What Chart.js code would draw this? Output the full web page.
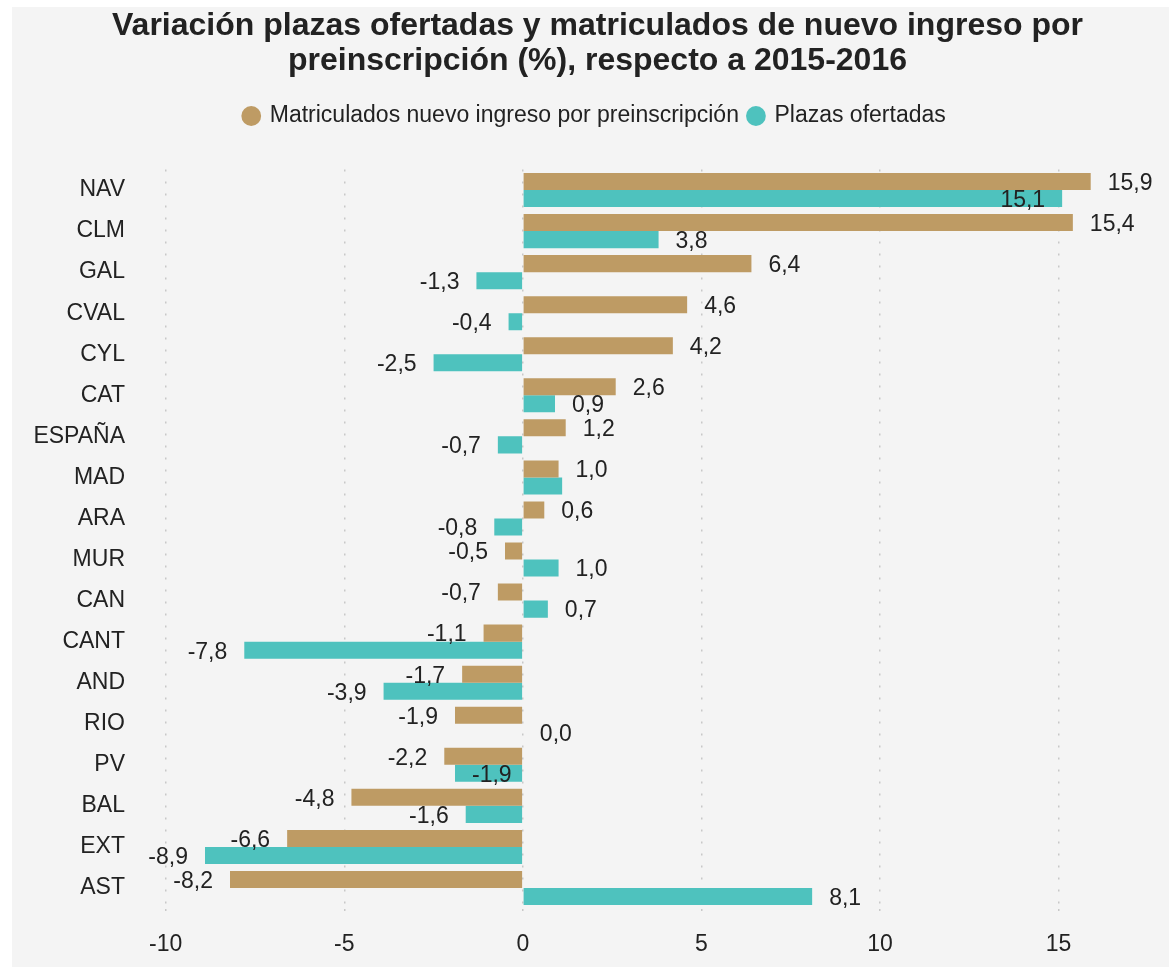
<!DOCTYPE html>
<html>
<head>
<meta charset="utf-8">
<script src="https://cdn.jsdelivr.net/npm/chart.js@4/dist/chart.umd.min.js"></script>
<style>
  html, body { margin: 0; padding: 0; background: #fff; }
  #wrap { position: absolute; left: 12px; top: 7px; width: 1157px; height: 960px; background: #f4f4f4; }
  canvas { display: block; }
</style>
</head>
<body>
<div id="wrap"><canvas id="bar" width="1157" height="960"></canvas></div>
<script>
const regions = ["NAV", "CLM", "GAL", "CVAL", "CYL", "CAT", "ESPAÑA", "MAD", "ARA", "MUR", "CAN", "CANT", "AND", "RIO", "PV", "BAL", "EXT", "AST"];
const matriculados = [15.9, 15.4, 6.4, 4.6, 4.2, 2.6, 1.2, 1.0, 0.6, -0.5, -0.7, -1.1, -1.7, -1.9, -2.2, -4.8, -6.6, -8.2];
const plazas = [15.1, 3.8, -1.3, -0.4, -2.5, 0.9, -0.7, 1.1, -0.8, 1.0, 0.7, -7.8, -3.9, 0.0, -1.9, -1.6, -8.9, 8.1];
const xTicks = [-10, -5, 0, 5, 10, 15];

const TXT = "#222222";
const FONT = "'Liberation Sans', Arial, sans-serif";

const fmt = v => v.toFixed(1).replace(".", ",");

// value labels at bar ends; the second series moves inside (or hides) when it collides
const barLabels = {
  id: "barLabels",
  afterDatasetsDraw(chart) {
    const ctx = chart.ctx;
    ctx.save();
    ctx.font = "23px " + FONT;
    ctx.fillStyle = TXT;
    ctx.textBaseline = "middle";
    const gap = 17;
    const metaM = chart.getDatasetMeta(0);
    const metaP = chart.getDatasetMeta(1);
    const place = (bar, v, inside) => {
      const txt = fmt(v);
      const w = ctx.measureText(txt).width;
      const pos = v >= 0;
      let x0;
      if (pos !== inside) x0 = bar.x + gap; else x0 = bar.x - gap - w;
      return { txt, w, x0, x1: x0 + w, y: bar.y + 2, len: Math.abs(bar.x - bar.base) };
    };
    regions.forEach((r, i) => {
      const a = place(metaM.data[i], matriculados[i], false);
      ctx.fillText(a.txt, a.x0, a.y);
      let b = place(metaP.data[i], plazas[i], false);
      const overlap = b.x0 < a.x1 && b.x1 > a.x0;
      if (overlap) {
        if (b.len >= b.w + 20) b = place(metaP.data[i], plazas[i], true);
        else return;
      }
      ctx.fillText(b.txt, b.x0, b.y);
    });
    ctx.restore();
  }
};

// extra room under the legend, and title/legend centred a bit right of the plot
const headerTweak = {
  id: "headerTweak",
  beforeInit(chart) {
    const fit = chart.legend.fit;
    chart.legend.fit = function () {
      fit.bind(chart.legend)();
      this.height += 32;
    };
  },
  afterLayout(chart) {
    chart.titleBlock.left += 53;
    chart.legend.left += 48;
  }
};

new Chart(document.getElementById("bar"), {
  type: "bar",
  data: {
    labels: regions,
    datasets: [
      { label: "Matriculados nuevo ingreso por preinscripción", data: matriculados, backgroundColor: "#BE9B64" },
      { label: "Plazas ofertadas", data: plazas, backgroundColor: "#4EC2BE" }
    ]
  },
  options: {
    indexAxis: "y",
    responsive: false,
    animation: false,
    devicePixelRatio: 1,
    categoryPercentage: 0.83,
    barPercentage: 1,
    layout: { padding: { top: 1.5, right: 39, bottom: 0, left: 0 } },
    scales: {
      x: {
        min: -10.72,
        max: 17,
        afterBuildTicks(scale) { scale.ticks = xTicks.map(v => ({ value: v })); },
        afterFit(scale) { scale.height = 58.5; },
        border: { display: false, dash: [2, 10] },
        grid: {
          color: "#c8c8c8",
          lineWidth: 1.5,
          drawTicks: true,
          tickLength: 12,
          tickColor: "#c8c8c8",
          tickBorderDash: [2, 10]
        },
        ticks: { color: TXT, font: { family: FONT, size: 23 }, padding: 10 }
      },
      y: {
        afterFit(scale) { scale.width = 128; },
        border: { display: false },
        grid: { display: false },
        ticks: { color: TXT, font: { family: FONT, size: 23 }, padding: 7 }
      }
    },
    plugins: {
      title: {
        display: true,
        text: ["Variación plazas ofertadas y matriculados de nuevo ingreso por", "preinscripción (%), respecto a 2015-2016"],
        color: TXT,
        font: { family: FONT, size: 32, weight: "bold", lineHeight: 1.094 },
        padding: { top: 0, bottom: 16 }
      },
      legend: {
        position: "top",
        labels: {
          color: TXT,
          font: { family: FONT, size: 23 },
          usePointStyle: true,
          pointStyle: "circle",
          boxWidth: 14,
          boxHeight: 14,
          padding: 10
        }
      },
      tooltip: { enabled: false }
    }
  },
  plugins: [barLabels, headerTweak]
});
</script>
</body>
</html>
